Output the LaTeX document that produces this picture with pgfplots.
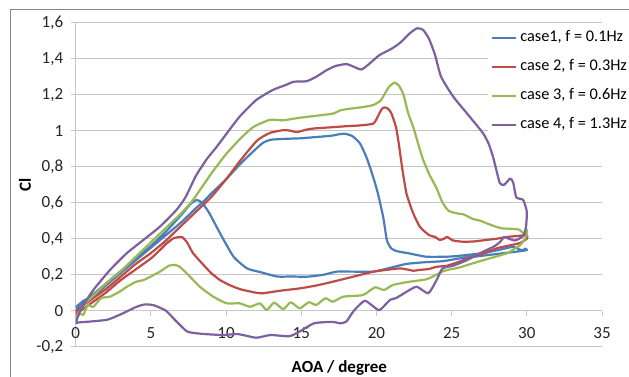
\documentclass[border=0pt]{standalone}
\usepackage{pgfplots}
\pgfplotsset{compat=1.18}
\usepackage{fontspec}
\setmainfont{Carlito}
\definecolor{cblue}{RGB}{74,126,187}
\definecolor{cred}{RGB}{190,75,72}
\definecolor{cgreen}{RGB}{152,185,84}
\definecolor{cpurple}{RGB}{125,96,160}
\definecolor{gridgray}{RGB}{198,198,198}
\definecolor{axisgray}{RGB}{200,200,200}
\definecolor{framegray}{RGB}{134,134,134}
\begin{document}
\begin{tikzpicture}[x=1pt,y=1pt]
\useasboundingbox (0,0) rectangle (629,376);
\fill[white] (0,0) rectangle (629,376);
\draw[framegray, line width=1.2pt] (10.7,-5) -- (10.7,366.7) -- (640,366.7);
\begin{axis}[
  at={(75.7pt,29.3pt)}, anchor=south west,
  scale only axis, width=526.3pt, height=324pt,
  xmin=0, xmax=35, ymin=-0.2, ymax=1.6,
  axis x line*=middle, axis y line*=left,
  hide obscured x ticks=false, hide obscured y ticks=false,
  xtick={0,5,...,35},
  ytick={-0.2,0,0.2,0.4,0.6,0.8,1,1.2,1.4,1.6},
  /pgf/number format/assume math mode=true,
  /pgf/number format/use comma,
  /pgf/number format/fixed,
  ymajorgrids=true,
  grid style={gridgray, line width=0.9pt},
  axis line style={axisgray, line width=0.9pt},
  tick style={axisgray, line width=0.9pt},
  major tick length=5pt,
  xtick align=outside, ytick align=outside,
  tick label style={font=\fontsize{17}{20}\selectfont, text=black!85},
  yticklabel style={xshift=-4pt},
  xticklabel style={yshift=-8pt},
  xlabel={\bfseries AOA / degree},
  ylabel={\bfseries Cl},
  every axis x label/.style={at={(axis description cs:0.501,-0.065)}, anchor=center, font=\fontsize{17}{20}\selectfont},
  every axis y label/.style={at={(axis description cs:-0.0963,0.499)}, anchor=center, rotate=90, font=\fontsize{17}{20}\selectfont},
  legend style={at={(0.7834,0.997)}, anchor=north west, draw=none, fill=white,
    font=\fontsize{16.3}{19}\selectfont, row sep=7pt, inner xsep=3pt, inner ysep=3pt,
    nodes={inner sep=3pt, text height=12pt, text depth=4pt}},
  legend cell align=left,
  legend image code/.code={\draw[#1] (0pt,0pt) -- (24pt,0pt);},
  every axis plot/.append style={line width=2.2pt, line join=round, smooth, tension=0.35},
]
\addplot[cblue] coordinates {
(0,0.02) (0.3,0.04) (0.6,0.06) (1,0.07) (1.5,0.1) (2,0.14) (3,0.21) (4,0.28) (5,0.35) (6,0.42) (7,0.49) (8,0.57) (8.6,0.615) (9,0.65) (10,0.73) (11,0.82) (12,0.9) (12.5,0.935) (13,0.95) (14,0.955) (15,0.958) (16,0.965) (17,0.972) (17.5,0.98) (17.9,0.983) (18.4,0.97) (18.9,0.93) (19.3,0.86) (19.6,0.79) (19.9,0.71) (20.1,0.65) (20.45,0.52) (20.7,0.39) (21.0,0.345) (21.4,0.33) (22.2,0.318) (23.3,0.30) (24.7,0.30) (25.5,0.305) (26.9,0.318) (28,0.335) (29.1,0.355) (29.5,0.34) (29.76,0.337) (29.9,0.345) (30,0.337)
(29.5,0.33) (28.5,0.32) (27.5,0.31) (26.5,0.30) (25.5,0.29) (24.4,0.275) (23.3,0.27) (22,0.26) (21,0.24) (19.8,0.217) (18.5,0.217) (17.35,0.217) (16.5,0.2) (15.4,0.189) (14.3,0.19) (13.4,0.19) (12.25,0.215) (11.4,0.235) (10.5,0.3) (9.6,0.43) (8.9,0.54) (8.4,0.6) (8.04,0.615) (7.6,0.59) (7,0.53) (6,0.44) (5,0.36) (4,0.29) (3,0.22) (2,0.15) (1,0.08) (0.3,0.03) (0,0.0)
};
\addlegendentry{case1, f = 0.1Hz}
\addplot[cred] coordinates {
(0,-0.01) (0.5,0.03) (1,0.06) (2,0.12) (3,0.19) (4,0.26) (5,0.32) (6,0.39) (7,0.47) (8,0.55) (9,0.63) (10,0.73) (11,0.84) (12,0.94) (12.5,0.97) (13,0.99) (13.8,1.003) (14.3,1.0) (14.7,0.992) (15.3,1.005) (15.8,1.012) (17,1.019) (18,1.025) (19,1.03) (19.8,1.04) (20.1,1.08) (20.35,1.12) (20.55,1.13) (20.8,1.12) (21.0,1.095) (21.3,1.02) (21.5,0.92) (21.7,0.8) (22,0.65) (22.45,0.54) (22.9,0.465) (23.5,0.42) (23.9,0.41) (24.2,0.393) (24.5,0.40) (24.7,0.41) (25.1,0.39) (25.8,0.383) (26.5,0.385) (27.3,0.393) (28,0.40) (28.7,0.41) (29.4,0.415) (30,0.42)
(30,0.40) (29.5,0.375) (28.7,0.36) (28,0.347) (27.2,0.32) (26.4,0.30) (25.5,0.272) (24.7,0.25) (24,0.244) (23.5,0.232) (22.8,0.226) (22.45,0.222) (21.6,0.235) (20.5,0.225) (19.8,0.217) (18.5,0.19) (17.1,0.161) (16,0.14) (14.9,0.124) (13.5,0.11) (12.47,0.097) (12,0.1) (11,0.118) (10.3,0.14) (9.6,0.17) (9,0.21) (8.5,0.254) (7.8,0.32) (7.4,0.38) (7.05,0.41) (6.5,0.402) (6,0.37) (5.6,0.337) (5,0.29) (4,0.23) (3,0.17) (2,0.1) (1,0.04) (0,-0.02)
};
\addlegendentry{case 2, f = 0.3Hz}
\addplot[cgreen] coordinates {
(0,-0.03) (0.3,0.0) (0.6,0.04) (1,0.07) (2,0.15) (3,0.22) (4,0.3) (5,0.38) (6,0.46) (7,0.54) (7.8,0.615) (9,0.76) (10,0.87) (11,0.96) (11.8,1.02) (12.9,1.06) (13.8,1.058) (14.9,1.072) (16,1.083) (17.1,1.095) (17.6,1.113) (18.2,1.122) (19,1.13) (19.8,1.143) (20.3,1.17) (20.8,1.24) (21.2,1.267) (21.5,1.25) (21.8,1.2) (22.1,1.1) (22.45,1.02) (22.8,0.92) (23.1,0.84) (23.5,0.76) (24,0.68) (24.4,0.6) (24.8,0.555) (25.4,0.54) (25.8,0.535) (26.4,0.51) (26.9,0.5) (27.5,0.48) (28,0.465) (28.4,0.457) (29,0.455) (29.5,0.45) (29.8,0.43) (30,0.45)
(30,0.42) (29.8,0.39) (29.5,0.36) (29.2,0.345) (28.7,0.32) (27.5,0.29) (26.4,0.263) (25.5,0.24) (24.7,0.226) (24.3,0.215) (24,0.2) (23.3,0.174) (22.2,0.161) (21.1,0.143) (20.5,0.115) (19.9,0.13) (19.1,0.087) (17.8,0.078) (17.1,0.05) (16.6,0.069) (16,0.032) (15.5,0.047) (14.9,0.013) (14.3,0.047) (13.8,0.008) (13.2,0.045) (12.7,0.004) (12.25,0.041) (11.6,0.022) (10.9,0.041) (10.04,0.041) (9.15,0.078) (8.26,0.133) (7.38,0.208) (6.9,0.245) (6.6,0.254) (6.2,0.25) (5.6,0.217) (5,0.19) (4.5,0.17) (4,0.16) (3.4,0.133) (3,0.11) (2.28,0.078) (1.7,0.07) (1.17,0.022) (0.8,0.03) (0.5,-0.024) (0.29,-0.015) (0,-0.05)
};
\addlegendentry{case 3, f = 0.6Hz}
\addplot[cpurple] coordinates {
(0,-0.07) (0.2,-0.02) (0.5,0.03) (1.17,0.115) (2.28,0.226) (3.39,0.319) (4.5,0.393) (5.6,0.467) (6.7,0.56) (7.3,0.63) (8,0.75) (8.7,0.84) (9.37,0.91) (10,0.98) (10.9,1.078) (12,1.17) (13.1,1.226) (14,1.255) (14.5,1.272) (15.36,1.275) (16,1.3) (16.7,1.337) (17.3,1.36) (18,1.37) (18.5,1.355) (19,1.34) (19.5,1.37) (20.2,1.42) (21,1.455) (21.6,1.49) (22.2,1.54) (22.7,1.569) (23.1,1.56) (23.5,1.51) (23.9,1.42) (24.3,1.3) (25.1,1.19) (26.2,1.078) (27.1,0.985) (27.5,0.92) (27.8,0.84) (28.2,0.71) (28.5,0.70) (28.9,0.735) (29.1,0.71) (29.3,0.63) (29.76,0.615) (30,0.55)
(29.95,0.47) (29.8,0.42) (29.5,0.40) (29.2,0.39) (28.8,0.40) (28.5,0.41) (28.2,0.38) (27.8,0.356) (26.9,0.32) (26.0,0.28) (25.1,0.25) (24.4,0.235) (24.0,0.17) (23.45,0.097) (22.7,0.133) (22.2,0.115) (21.3,0.07) (20.9,0.06) (20.2,0.003) (19.7,0.03) (19.2,0.055) (18.5,0.0) (18.0,-0.06) (17.6,-0.07) (17.05,-0.062) (15.85,-0.07) (14.9,-0.115) (14.2,-0.142) (12.95,-0.135) (12.0,-0.15) (10.8,-0.13) (9.8,-0.135) (8.6,-0.13) (8,-0.125) (7.4,-0.115) (6.7,-0.06) (6,0.0) (5.2,0.03) (4.6,0.035) (4,0.02) (3,-0.02) (2.1,-0.05) (1,-0.06) (0.2,-0.065) (0,-0.07)
};
\addlegendentry{case 4, f = 1.3Hz}
\end{axis}
\end{tikzpicture}
\end{document}
